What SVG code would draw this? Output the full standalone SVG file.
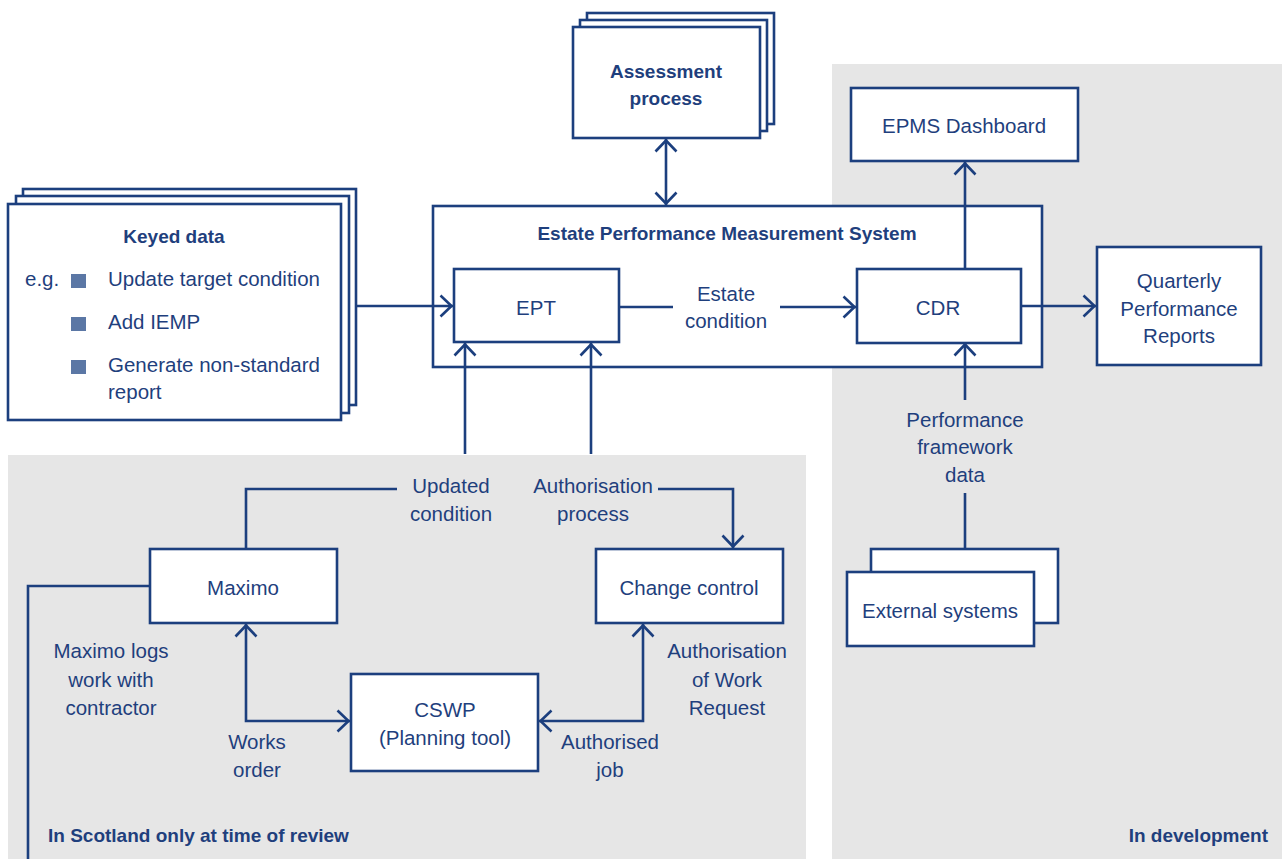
<svg xmlns="http://www.w3.org/2000/svg" width="1282" height="859" viewBox="0 0 1282 859">
<style>
.bg{fill:#e6e6e6;stroke:none}
.box{fill:#ffffff;stroke:#1c3f7e;stroke-width:2.6}
.ln{fill:none;stroke:#1c3f7e;stroke-width:2.6}
text{font-family:"Liberation Sans",Arial,sans-serif;fill:#1f3f7d;font-size:20.5px}
.c{text-anchor:middle}
.b{font-weight:bold;font-size:19px}
.bul{fill:#5b77a5}
</style>
<defs>
<marker id="ah" viewBox="-14 -12 16 24" refX="0" refY="0" markerWidth="16" markerHeight="24" markerUnits="userSpaceOnUse" orient="auto-start-reverse">
<path d="M-12.5,-10.5 L-1.5,0 L-12.5,10.5" fill="none" stroke="#1c3f7e" stroke-width="2.6"/>
</marker>
</defs>
<g id="regions">
<rect class="bg" x="8" y="455" width="798" height="404"/>
<rect class="bg" x="832" y="64" width="450" height="795"/>
<text class="b" x="48" y="842">In Scotland only at time of review</text>
<text class="b" x="1268" y="842" text-anchor="end">In development</text>
</g>
<g id="epms">
<rect class="box" x="433" y="206" width="609" height="161"/>
<text class="b c" x="727" y="240">Estate Performance Measurement System</text>
</g>
<g id="connectors">
<path class="ln" d="M356,306 H453" marker-end="url(#ah)"/>
<path class="ln" d="M666,139 V205" marker-start="url(#ah)" marker-end="url(#ah)"/>
<path class="ln" d="M619,307 H673"/>
<path class="ln" d="M780,307 H856" marker-end="url(#ah)"/>
<path class="ln" d="M965,269 V162" marker-end="url(#ah)"/>
<path class="ln" d="M1021,306 H1096" marker-end="url(#ah)"/>
<path class="ln" d="M965,400 V343" marker-end="url(#ah)"/>
<path class="ln" d="M965,493 V549"/>
<path class="ln" d="M465,454 V343" marker-end="url(#ah)"/>
<path class="ln" d="M591,454 V343" marker-end="url(#ah)"/>
<path class="ln" d="M246,549 V489 H397"/>
<path class="ln" d="M658,489 H733 V548" marker-end="url(#ah)"/>
<path class="ln" d="M246,624 V721 H350" marker-start="url(#ah)" marker-end="url(#ah)"/>
<path class="ln" d="M539,721 H643 V624" marker-start="url(#ah)" marker-end="url(#ah)"/>
<path class="ln" d="M150,586 H28 V859"/>
</g>
<g id="labels">
<text class="c" x="726" y="301">Estate</text>
<text class="c" x="726" y="328">condition</text>
<text class="c" x="965" y="427">Performance</text>
<text class="c" x="965" y="454">framework</text>
<text class="c" x="965" y="482">data</text>
<text class="c" x="451" y="493">Updated</text>
<text class="c" x="451" y="521">condition</text>
<text class="c" x="593" y="493">Authorisation</text>
<text class="c" x="593" y="521">process</text>
<text class="c" x="111" y="658">Maximo logs</text>
<text class="c" x="111" y="687">work with</text>
<text class="c" x="111" y="715">contractor</text>
<text class="c" x="257" y="749">Works</text>
<text class="c" x="257" y="777">order</text>
<text class="c" x="727" y="658">Authorisation</text>
<text class="c" x="727" y="687">of Work</text>
<text class="c" x="727" y="715">Request</text>
<text class="c" x="610" y="749">Authorised</text>
<text class="c" x="610" y="777">job</text>
</g>
<g id="assessment">
<rect class="box" x="587" y="13" width="187" height="111"/>
<rect class="box" x="580" y="20" width="187" height="111"/>
<rect class="box" x="573" y="27" width="187" height="111"/>
<text class="b c" x="666" y="78">Assessment</text>
<text class="b c" x="666" y="105">process</text>
</g>
<g id="keyed">
<rect class="box" x="23" y="189" width="333" height="216"/>
<rect class="box" x="16" y="196" width="333" height="217"/>
<rect class="box" x="8" y="204" width="333" height="216"/>
<text class="b c" x="174" y="243">Keyed data</text>
<text x="25" y="286">e.g.</text>
<rect class="bul" x="71" y="274" width="15" height="14"/>
<rect class="bul" x="71" y="317" width="15" height="14"/>
<rect class="bul" x="71" y="360" width="15" height="14"/>
<text x="108" y="286">Update target condition</text>
<text x="108" y="329">Add IEMP</text>
<text x="108" y="372">Generate non-standard</text>
<text x="108" y="399">report</text>
</g>
<g id="ept">
<rect class="box" x="454" y="269" width="165" height="73"/>
<text class="c" x="536" y="315">EPT</text>
</g>
<g id="cdr">
<rect class="box" x="857" y="269" width="164" height="74"/>
<text class="c" x="938" y="315">CDR</text>
</g>
<g id="dashboard">
<rect class="box" x="851" y="88" width="227" height="73"/>
<text class="c" x="964" y="133">EPMS Dashboard</text>
</g>
<g id="quarterly">
<rect class="box" x="1097" y="247" width="164" height="118"/>
<text class="c" x="1179" y="288">Quarterly</text>
<text class="c" x="1179" y="316">Performance</text>
<text class="c" x="1179" y="343">Reports</text>
</g>
<g id="external">
<rect class="box" x="871" y="549" width="187" height="74"/>
<rect class="box" x="847" y="572" width="187" height="74"/>
<text class="c" x="940" y="618">External systems</text>
</g>
<g id="maximo">
<rect class="box" x="150" y="549" width="187" height="74"/>
<text class="c" x="243" y="595">Maximo</text>
</g>
<g id="change">
<rect class="box" x="596" y="549" width="187" height="74"/>
<text class="c" x="689" y="595">Change control</text>
</g>
<g id="cswp">
<rect class="box" x="351" y="674" width="187" height="97"/>
<text class="c" x="445" y="717">CSWP</text>
<text class="c" x="445" y="745">(Planning tool)</text>
</g>
</svg>
